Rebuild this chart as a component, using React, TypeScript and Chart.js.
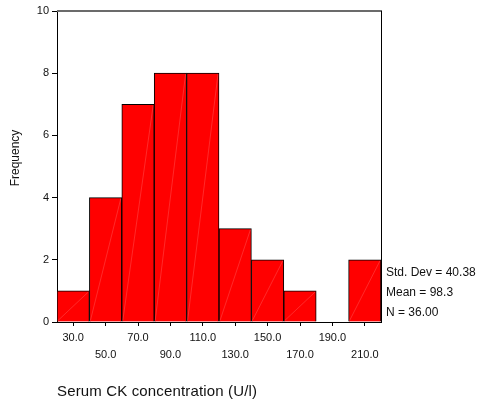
import React, { useEffect, useRef } from "react";
import { Chart, registerables } from "chart.js";
Chart.register(...registerables);

const binCenters = ["30.0", "50.0", "70.0", "90.0", "110.0", "130.0", "150.0", "170.0", "190.0", "210.0"];
const frequencies = [1, 4, 7, 8, 8, 3, 2, 1, 0, 2];
const yTicks = [0, 2, 4, 6, 8, 10];
const statsLines = ["Std. Dev = 40.38", "Mean = 98.3", "N = 36.00"];
const xTitle = "Serum CK concentration (U/l)";
const yTitle = "Frequency";

const FONT = "Arial, 'Liberation Sans', sans-serif";

const decorPlugin = {
  id: "decor",
  afterDatasetsDraw(chart: any) {
    const { ctx } = chart;
    const meta = chart.getDatasetMeta(0);
    ctx.save();
    ctx.strokeStyle = "rgba(255,190,190,0.45)";
    ctx.lineWidth = 0.5;
    meta.data.forEach((bar: any) => {
      const p = bar.getProps(["x", "y", "base", "width"], true);
      if (Math.abs(p.base - p.y) < 1) return;
      const l = p.x - p.width / 2 + 1;
      const r = p.x + p.width / 2 - 1;
      ctx.beginPath();
      ctx.moveTo(l, p.base - 1);
      ctx.lineTo(r, p.y + 1);
      ctx.stroke();
    });
    ctx.restore();
  },
  afterDraw(chart: any) {
    const { ctx, chartArea } = chart;
    const { left, right, top, bottom } = chartArea;
    ctx.save();
    ctx.strokeStyle = "#6b6b6b";
    ctx.lineWidth = 2;
    ctx.beginPath();
    ctx.moveTo(left, top);
    ctx.lineTo(right + 1, top);
    ctx.stroke();
    ctx.strokeStyle = "#000";
    ctx.lineWidth = 1;
    ctx.beginPath();
    ctx.moveTo(right + 0.5, top);
    ctx.lineTo(right + 0.5, bottom);
    ctx.stroke();
    ctx.fillStyle = "#111";
    ctx.font = "12px " + FONT;
    ctx.textAlign = "left";
    ctx.textBaseline = "middle";
    statsLines.forEach((s, i) => {
      ctx.fillText(s, right + 5, 273 + i * 20);
    });
    ctx.font = "15px " + FONT;
    const w = ctx.measureText(xTitle).width;
    const sp = Math.max(0, (200 - w) / xTitle.length);
    (ctx as any).letterSpacing = sp.toFixed(2) + "px";
    ctx.fillText(xTitle, left, 392);
    (ctx as any).letterSpacing = "0px";
    ctx.font = "12px " + FONT;
    ctx.translate(16, 158);
    ctx.rotate(-Math.PI / 2);
    ctx.textAlign = "center";
    ctx.fillText(yTitle, 0, 0);
    ctx.restore();
  },
};

export default function App() {
  const ref = useRef<HTMLCanvasElement | null>(null);
  useEffect(() => {
    if (!ref.current) return;
    const chart = new Chart(ref.current, {
      type: "bar",
      data: {
        labels: binCenters,
        datasets: [
          {
            data: frequencies,
            backgroundColor: "#ff0000",
            borderColor: "#000000",
            borderWidth: 1,
            barPercentage: 1,
            categoryPercentage: 1,
          },
        ],
      },
      options: {
        animation: false,
        responsive: false,
        layout: { padding: { left: 0, right: 96, top: 11, bottom: 0 } },
        plugins: { legend: { display: false }, tooltip: { enabled: false } },
        scales: {
          x: {
            grid: { display: true, drawOnChartArea: false, drawTicks: true, tickLength: 4, offset: false, color: "#000" },
            border: { display: true, color: "#000", width: 1 },
            ticks: {
              color: "#111",
              font: { family: FONT, size: 11, lineHeight: 1.55 },
              padding: 3,
              maxRotation: 0,
              autoSkip: false,
              callback: (_v: any, i: number) => (i % 2 === 0 ? [binCenters[i]] : ["", binCenters[i]]),
            },
            afterFit: (s: any) => {
              s.height = 83;
            },
          },
          y: {
            min: 0,
            max: 10,
            afterBuildTicks: (s: any) => {
              s.ticks = yTicks.map((v) => ({ value: v }));
            },
            grid: { display: true, drawOnChartArea: false, drawTicks: true, tickLength: 5, color: "#000" },
            border: { display: true, color: "#000", width: 1 },
            ticks: { color: "#111", font: { family: FONT, size: 11 }, padding: 3 },
            afterFit: (s: any) => {
              s.width = 57;
            },
          },
        },
      },
      plugins: [decorPlugin],
    });
    return () => chart.destroy();
  }, []);
  return (
    <div style={{ position: "absolute", left: 0, top: 0, width: 477, height: 405, background: "#fff" }}>
      <canvas ref={ref} width={477} height={405} />
    </div>
  );
}
